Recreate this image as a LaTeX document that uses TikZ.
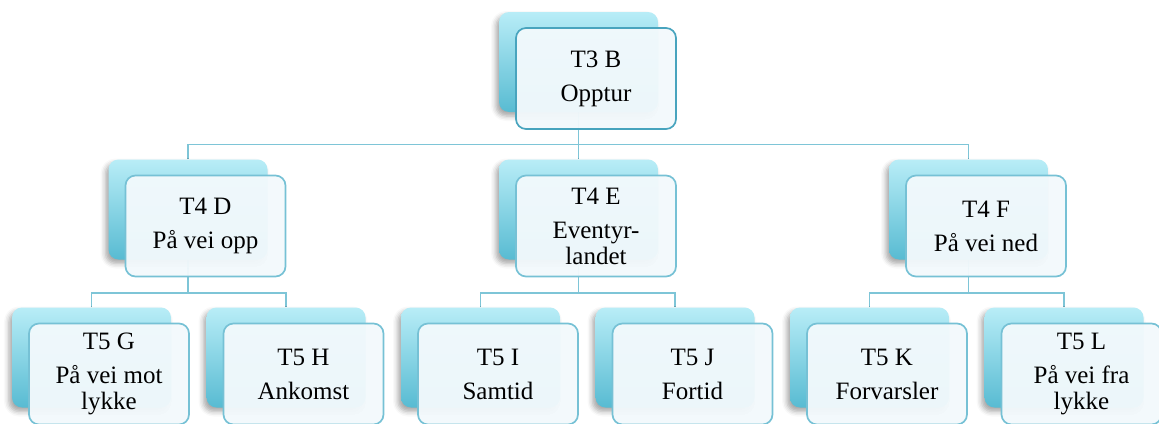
\documentclass[tikz,border=0pt]{standalone}
\usepackage{fontspec}
\setmainfont{Liberation Serif}
\usetikzlibrary{shadows.blur}
\pgfdeclarelayer{bg}
\pgfsetlayers{bg,main}

\definecolor{backtop}{RGB}{184,237,247}
\definecolor{backbot}{RGB}{88,187,210}
\definecolor{frontfill}{RGB}{242,249,252}
\definecolor{edgetop}{RGB}{72,164,190}
\definecolor{edgelow}{RGB}{118,193,213}
\definecolor{linkcol}{RGB}{126,197,215}

\tikzset{
  backbox/.style={rectangle, rounded corners=10pt, minimum width=159pt,
    minimum height=100pt, inner sep=0pt, top color=backtop, bottom color=backbot,
    blur shadow={shadow xshift=-3pt, shadow yshift=-4pt,
      shadow blur radius=5pt, shadow opacity=35}},
  frontbox/.style={rectangle, rounded corners=10pt, minimum width=160pt,
    minimum height=101pt, inner sep=2pt, draw=edgelow, line width=1.7pt,
    fill=frontfill, fill opacity=0.96, text opacity=1, align=center,
    font=\fontsize{25}{26}\selectfont},
  topfront/.style={frontbox, draw=edgetop},
  link/.style={draw=linkcol, line width=1.6pt},
}

\begin{document}
\begin{tikzpicture}[x=1pt,y=-1pt]
\useasboundingbox (0,0) rectangle (1159,423);

% back (shaded) tiles
\node[backbox] (T3Bb) at (578.5,62) {};
\node[backbox] (T4Db) at (188,209.5) {};
\node[backbox] (T4Eb) at (578.5,209.5) {};
\node[backbox] (T4Fb) at (968.5,209.5) {};
\node[backbox] (T5Gb) at (91.5,357.5) {};
\node[backbox] (T5Hb) at (286,357.5) {};
\node[backbox] (T5Ib) at (480.5,357.5) {};
\node[backbox] (T5Jb) at (675,357.5) {};
\node[backbox] (T5Kb) at (869.5,357.5) {};
\node[backbox] (T5Lb) at (1064,357.5) {};

% front text boxes
\node[topfront] (T3Bf) at (596,78.5) {T3 B\\[8pt]Opptur};
\node[frontbox] (T4Df) at (205.5,226) {T4 D\\[8pt]På vei opp};
\node[frontbox] (T4Ef) at (596,226) {T4 E\\[8pt]Eventyr-\\landet};
\node[frontbox] (T4Ff) at (986,226) {T4 F\\[8pt]På vei ned};
\node[frontbox] (T5Gf) at (109,374) {T5 G\\[8pt]På vei mot\\lykke};
\node[frontbox] (T5Hf) at (303.5,374) {T5 H\\[8pt]Ankomst};
\node[frontbox] (T5If) at (498,374) {T5 I\\[8pt]Samtid};
\node[frontbox] (T5Jf) at (692.5,374) {T5 J\\[8pt]Fortid};
\node[frontbox] (T5Kf) at (887,374) {T5 K\\[8pt]Forvarsler};
\node[frontbox] (T5Lf) at (1081.5,374) {T5 L\\[8pt]På vei fra\\lykke};

% connectors
\begin{pgfonlayer}{bg}
\draw[link] (T3Bb.south) -- (T4Eb.north);
\draw[link] (T4Db.north) -- ++(0,-15) -| (T4Fb.north);
\draw[link] (T4Db.south) -- ++(0,33.5);
\draw[link] (T4Eb.south) -- ++(0,33.5);
\draw[link] (T4Fb.south) -- ++(0,33.5);
\draw[link] (T5Gb.north) -- ++(0,-14.5) -| (T5Hb.north);
\draw[link] (T5Ib.north) -- ++(0,-14.5) -| (T5Jb.north);
\draw[link] (T5Kb.north) -- ++(0,-14.5) -| (T5Lb.north);
\end{pgfonlayer}
\end{tikzpicture}
\end{document}
